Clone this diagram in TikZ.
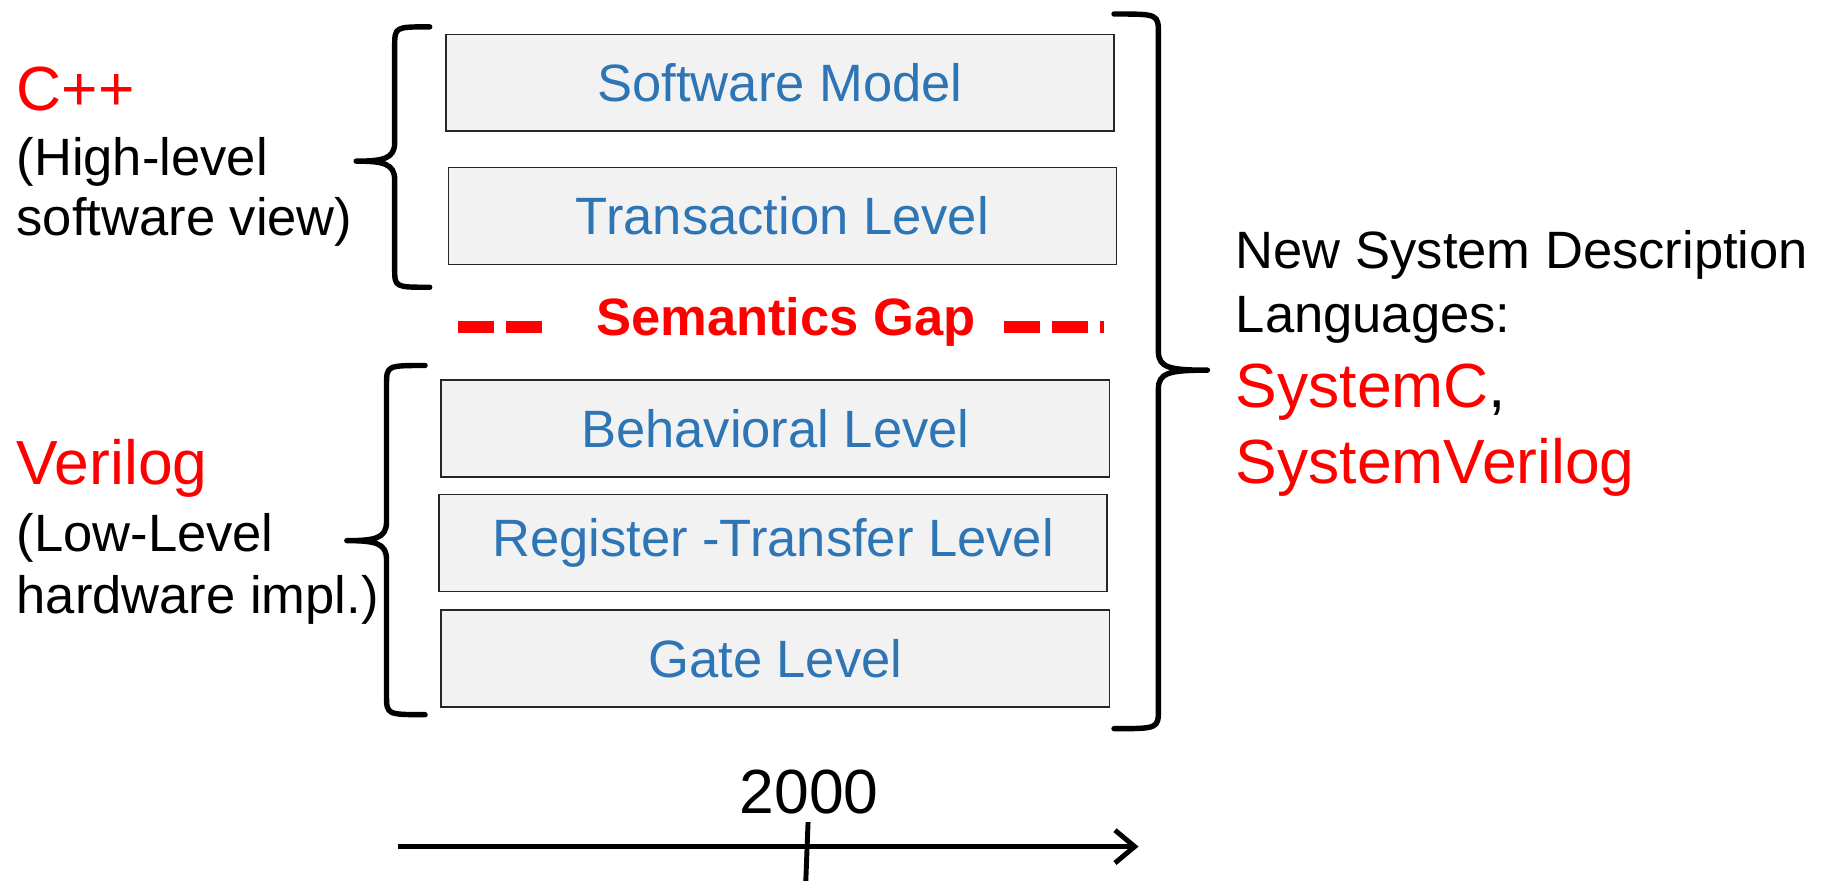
\documentclass[tikz,border=0pt]{standalone}
\usepackage{fontspec}
\setmainfont{Liberation Sans}
\usetikzlibrary{arrows.meta}
\definecolor{levelblue}{RGB}{46,117,182}
\definecolor{levelfill}{RGB}{242,242,242}

\begin{document}
\begin{tikzpicture}[x=0.025cm, y=-0.025cm,
    level/.style={draw=black!85, line width=1pt, fill=levelfill, text=levelblue,
      minimum width=14.3cm, minimum height=2.07cm, inner sep=0pt,
      font=\fontsize{32}{38}\selectfont},
    brace/.style={line width=3.3pt, line cap=round, line join=round},
    side/.style={anchor=base west, inner sep=0pt, font=\fontsize{32}{38}\selectfont},
    lang/.style={anchor=base west, inner sep=0pt, text=red, font=\fontsize{38}{44}\selectfont},
    gapdash/.style={red, line width=7.1pt, dash pattern=on 22pt off 7.1pt}]
    \useasboundingbox (0,0) rectangle (1568,754);

    % abstraction levels
    \node[level] (sw) at (668,71) {Software Model};
    \node[level] (tlm) at (670,185) {Transaction Level};
    \node[level] (beh) at (664,367) {Behavioral Level};
    \node[level] (rtl) at (662,465) {Register -Transfer Level};
    \node[level] (gate) at (664,564) {Gate Level};

    % semantics gap
    \node[anchor=base, inner sep=0pt, text=red, font=\bfseries\fontsize{32}{38}\selectfont] (gap) at (673,287) {Semantics Gap};
    \coordinate (gapL1) at (392,280);
    \coordinate (gapL2) at (464,280);
    \coordinate (gapR1) at (860,280);
    \coordinate (gapR2) at (945,280);
    \draw[gapdash] (gapL1) -- (gapL2);
    \draw[gapdash] (gapR1) -- (gapR2);

    % left labels
    \node[lang] (cpp) at (14,95) {C++};
    \node[side] (high) at (14,150) {(High-level};
    \node[side] (swview) at (14,202) {software view)};
    \node[lang] (verilog) at (14,415) {Verilog};
    \node[side] (low) at (14,472) {(Low-Level};
    \node[side] (hwimpl) at (14,525) {hardware impl.)};

    % right labels
    \node[side] (newsys) at (1058,230) {New System Description};
    \node[side] (langs) at (1058,285) {Languages:};
    \node[lang] (sysc) at (1058,349) {SystemC\textcolor{black}{,}};
    \node[lang] (sysv) at (1058,414) {SystemVerilog};

    % braces
    \draw[brace] (368,23) .. controls (338,23) .. (338,40) -- (338,122)
      .. controls (338,136) and (328,138) .. (305,138)
      .. controls (328,138) and (338,140) .. (338,154) -- (338,230)
      .. controls (338,246) .. (368,246);
    \draw[brace] (364,313) .. controls (331,313) .. (331,330) -- (331,447)
      .. controls (331,461) and (321,463) .. (297,463)
      .. controls (321,463) and (331,465) .. (331,479) -- (331,595)
      .. controls (331,612) .. (364,612);
    \draw[brace] (954,12) .. controls (992,12) .. (992,29) -- (992,301)
      .. controls (992,315) and (1002,317) .. (1034,317)
      .. controls (1002,317) and (992,319) .. (992,333) -- (992,607)
      .. controls (992,624) .. (954,624);

    % time axis
    \node[anchor=base, inner sep=0pt, font=\fontsize{38}{44}\selectfont] (year) at (693,697) {2000};
    \coordinate (axisL) at (341,725);
    \coordinate (axisR) at (975,725);
    \coordinate (tickT) at (692,704);
    \coordinate (tickB) at (690,756);
    \draw[line width=3pt, -{Straight Barb[length=12pt, width=20pt]}] (axisL) -- (axisR);
    \draw[line width=3pt] (tickT) -- (tickB);
\end{tikzpicture}
\end{document}
